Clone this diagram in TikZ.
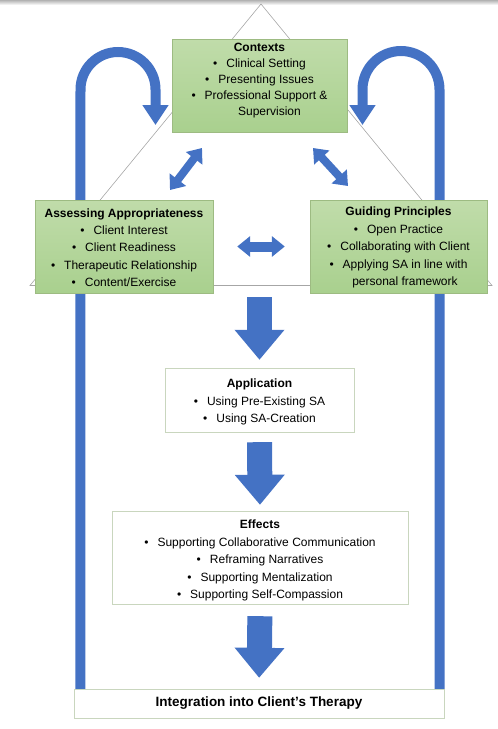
\documentclass[tikz,border=0pt]{standalone}
\usepackage{fontspec}
\setmainfont{Liberation Sans}
\usetikzlibrary{arrows.meta}

\definecolor{loopblue}{HTML}{4472C4}
\definecolor{boxgreen}{HTML}{A9D08E}
\definecolor{boxgreenlt}{HTML}{C0DCAA}
\definecolor{boxedge}{HTML}{9DBB82}
\definecolor{paleedge}{HTML}{C9D6BE}

\newcommand{\itm}{\textbullet\hspace{9pt}}

\tikzset{
  greenbox/.style={draw=boxedge, top color=boxgreenlt, bottom color=boxgreen,
    align=center, inner sep=0pt, font=\fontsize{12}{17.4}\selectfont},
  whitebox/.style={draw=paleedge, fill=white, align=center, inner sep=0pt,
    font=\fontsize{12}{17.5}\selectfont},
  bigloop/.style={draw=loopblue, line width=10pt,
    -{Triangle[width=25pt,length=20pt]}},
  downarrow/.style={draw=loopblue, line width=25pt,
    -{Triangle[width=48pt,length=30pt]}},
  twoway/.style={draw=loopblue, line width=8pt,
    {Triangle[width=20pt,length=13pt]}-{Triangle[width=20pt,length=13pt]}}
}

\begin{document}
\begin{tikzpicture}[x=1pt,y=-1pt]
\useasboundingbox (0,0) rectangle (498,729);
\shade[top color=black!30, bottom color=white] (0,0) rectangle (498,5);

% background triangle
\draw[black!35, line width=0.6pt] (261,4) -- (30,285.5) -- (492,285.5) -- cycle;

% boxes
\node[whitebox, minimum width=370pt, minimum height=29pt,
  font=\fontsize{13.5}{17}\selectfont\bfseries] (integ) at (259,703.5)
  {Integration into Client’s Therapy};

% loops back up
\coordinate (ltip) at (155.5,125);
\coordinate (rtip) at (362.5,125);
\draw[bigloop] ([xshift=6.5pt]integ.north west) -- (80.5,89.5)
  arc[start angle=180, end angle=0, radius=37.5pt] -- (ltip);
\draw[bigloop] ([xshift=-4.5pt]integ.north east) -- (439.5,89.5)
  arc[start angle=0, end angle=180, radius=38.5pt] -- (rtip);

\node[greenbox, minimum width=175pt, minimum height=93pt,
  font=\fontsize{12}{15.9}\selectfont] (ctx) at (259.5,85.5)
  {\textbf{Contexts}\\ \itm Clinical Setting\\ \itm Presenting Issues\\
   \itm Professional Support \&\\ \hspace{20pt}Supervision\\[-3pt]};
\node[greenbox, minimum width=178pt, minimum height=93pt] (assess) at (124,246.5)
  {\rule{0pt}{11pt}\textbf{Assessing Appropriateness}\\ \itm Client Interest\\ \itm Client Readiness\\
   \itm Therapeutic Relationship\\ \itm Content/Exercise};
\node[greenbox, minimum width=177pt, minimum height=93pt] (guide) at (398.5,246.5)
  {\rule{0pt}{11pt}\textbf{Guiding Principles}\\ \itm Open Practice\\ \itm Collaborating with Client\\
   \itm Applying SA in line with\\ \hspace{13pt}personal framework};
\node[whitebox, minimum width=189pt, minimum height=64pt] (app) at (259.5,400)
  {\rule{0pt}{12.5pt}\textbf{Application}\\ \itm Using Pre-Existing SA\\ \itm Using SA-Creation};
\node[whitebox, minimum width=296pt, minimum height=93pt] (eff) at (260,557.5)
  {\rule{0pt}{14.5pt}\textbf{Effects}\\ \itm Supporting Collaborative Communication\\
   \itm Reframing Narratives\\ \itm Supporting Mentalization\\
   \itm Supporting Self-Compassion};

% two-way arrows
\coordinate (dl1) at (202,148);
\coordinate (dl2) at (170,190);
\coordinate (dr1) at (313,148);
\coordinate (dr2) at (348,186);
\draw[twoway] (dl1) -- (dl2);
\draw[twoway] (dr1) -- (dr2);
\draw[twoway, line width=10pt, shorten <=24pt, shorten >=25pt] (assess.east) -- (guide.west);

% flow downwards
\draw[downarrow, shorten <=4pt, shorten >=8pt] (ctx.south |- assess.south) -- (app.north);
\draw[downarrow, shorten <=10pt, shorten >=6pt] (app.south) -- (eff.north);
\draw[downarrow, shorten <=12pt, shorten >=11pt] (eff.south) -- (integ.north);
\end{tikzpicture}
\end{document}
